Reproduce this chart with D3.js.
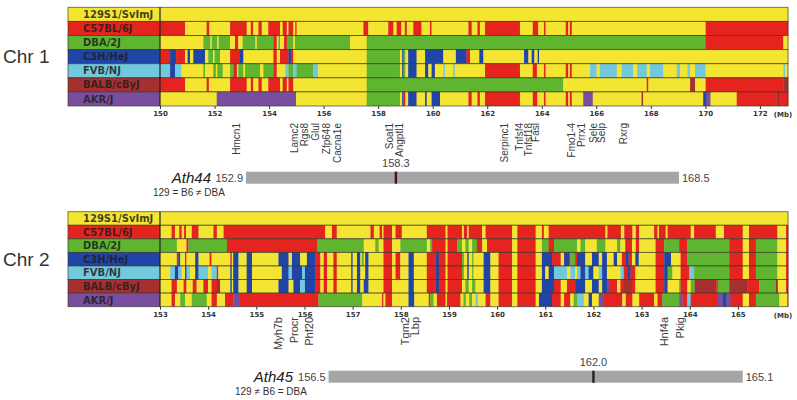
<!DOCTYPE html>
<html>
<head>
<meta charset="utf-8">
<script src="https://cdn.jsdelivr.net/npm/d3@7"></script>
<style>
  body { margin: 0; background: #fff; }
  svg { display: block; }
</style>
</head>
<body>
<div id="chart"></div>
<script>
// strain names and haplotype colour keys
var strains = ["129S1/SvImJ", "C57BL/6J", "DBA/2J", "C3H/HeJ", "FVB/NJ", "BALB/cByJ", "AKR/J"];
var strainKeys = ["Y", "R", "G", "B", "C", "M", "P"];

// chr 1 haplotype blocks: [start Mb, haplotype]
var chr1_129 = [[150,"Y"]];
var chr1_B6 = [[150,"R"],[150.92,"Y"],[151.71,"R"],[151.81,"Y"],[152.57,"R"],[153.18,"Y"],[153.33,"R"],[153.42,"Y"],[153.61,"R"],[153.73,"Y"],[153.97,"R"],[154.4,"Y"],[154.5,"R"],[154.65,"Y"],[154.71,"R"],[154.89,"Y"],[154.96,"R"],[155.01,"Y"],[157.46,"R"],[157.64,"Y"],[158.37,"R"],[158.56,"Y"],[158.68,"R"],[158.85,"Y"],[158.98,"R"],[159.05,"Y"],[159.29,"R"],[159.59,"Y"],[159.9,"R"],[159.96,"Y"],[161.31,"R"],[161.43,"Y"],[161.64,"R"],[161.73,"Y"],[161.92,"R"],[163.2,"Y"],[163.67,"R"],[163.87,"Y"],[164.08,"R"],[164.14,"Y"],[164.88,"R"],[164.97,"Y"],[165.03,"R"],[165.1,"Y"],[170.01,"R"]];
var chr1_DBA = [[150,"Y"],[151.59,"G"],[151.85,"Y"],[151.9,"G"],[152.1,"Y"],[152.15,"G"],[152.57,"Y"],[152.75,"R"],[152.87,"Y"],[153.03,"G"],[153.5,"Y"],[153.55,"G"],[154.16,"R"],[154.28,"Y"],[154.34,"G"],[154.4,"Y"],[154.55,"R"],[154.65,"G"],[154.89,"Y"],[154.95,"G"],[156.97,"Y"],[157.58,"G"],[170.01,"R"],[172.86,"Y"]];
var chr1_C3H = [[150,"R"],[150.37,"B"],[150.59,"R"],[150.92,"Y"],[151.01,"B"],[151.1,"Y"],[151.22,"B"],[151.65,"Y"],[151.77,"G"],[151.95,"Y"],[152.0,"G"],[152.2,"Y"],[152.57,"R"],[152.93,"B"],[153.06,"Y"],[154.16,"R"],[154.28,"Y"],[154.4,"R"],[154.71,"B"],[154.8,"R"],[154.89,"Y"],[157.58,"G"],[158.8,"Y"],[158.88,"B"],[158.93,"G"],[159.0,"Y"],[159.1,"B"],[159.41,"Y"],[159.72,"B"],[160.39,"Y"],[160.85,"B"],[161.24,"R"],[161.37,"Y"],[161.71,"B"],[161.86,"Y"],[163.35,"B"],[163.51,"Y"],[163.63,"B"],[163.73,"Y"],[163.85,"B"],[163.9,"Y"]];
var chr1_FVB = [[150,"C"],[150.37,"B"],[150.55,"C"],[150.79,"Y"],[151.59,"G"],[151.65,"Y"],[151.95,"G"],[152.05,"Y"],[152.1,"G"],[152.3,"Y"],[152.57,"G"],[152.7,"R"],[152.82,"Y"],[152.87,"G"],[153.06,"Y"],[153.12,"G"],[153.67,"Y"],[153.79,"G"],[154.16,"R"],[154.28,"Y"],[154.59,"C"],[154.71,"G"],[154.89,"C"],[155.01,"G"],[155.62,"C"],[155.8,"Y"],[157.58,"G"],[158.8,"Y"],[158.88,"B"],[158.93,"G"],[159.0,"Y"],[159.1,"B"],[159.41,"Y"],[159.72,"B"],[159.84,"Y"],[159.96,"B"],[160.08,"Y"],[160.39,"C"],[160.45,"Y"],[160.75,"C"],[160.81,"Y"],[161.92,"R"],[163.2,"Y"],[163.67,"R"],[163.82,"Y"],[164.08,"R"],[164.14,"Y"],[164.88,"R"],[164.97,"Y"],[165.03,"R"],[165.1,"Y"],[165.77,"C"],[166.01,"Y"],[166.13,"C"],[166.75,"Y"],[166.93,"C"],[167.36,"Y"],[167.5,"C"],[167.85,"Y"],[167.97,"C"],[168.46,"Y"],[168.95,"C"],[169.07,"Y"],[169.34,"C"],[169.44,"Y"],[169.62,"C"],[170.01,"Y"],[172.86,"C"],[172.92,"Y"]];
var chr1_BALB = [[150,"R"],[150.92,"Y"],[151.71,"R"],[151.79,"Y"],[152.57,"R"],[153.18,"Y"],[153.33,"R"],[153.42,"Y"],[153.61,"R"],[153.73,"Y"],[153.97,"R"],[154.4,"Y"],[154.5,"R"],[154.65,"Y"],[154.71,"R"],[154.89,"Y"],[157.58,"G"],[164.79,"Y"],[167.85,"R"],[167.91,"Y"],[169.44,"M"],[169.62,"Y"],[170.01,"R"],[172.86,"M"]];
var chr1_AKR = [[150,"Y"],[152.08,"P"],[154.99,"Y"],[157.58,"G"],[158.8,"Y"],[158.88,"B"],[158.93,"R"],[159.0,"Y"],[159.1,"B"],[159.41,"Y"],[159.72,"B"],[159.78,"Y"],[159.96,"B"],[160.27,"Y"],[161.31,"R"],[161.43,"Y"],[161.64,"R"],[161.73,"Y"],[161.92,"R"],[163.2,"Y"],[163.67,"R"],[163.84,"Y"],[164.08,"R"],[164.14,"Y"],[164.88,"R"],[164.97,"Y"],[165.03,"R"],[165.1,"Y"],[165.52,"P"],[165.87,"Y"],[167.66,"M"],[167.72,"Y"],[169.92,"B"],[170.02,"P"],[170.19,"Y"],[171.15,"R"],[172.61,"M"],[172.74,"R"]];

// chr 2 haplotype blocks
var chr2_129 = [[153,"Y"]];
var chr2_B6 = [[153,"Y"],[153.24,"R"],[153.31,"Y"],[153.4,"R"],[153.45,"Y"],[153.5,"R"],[153.54,"Y"],[153.66,"R"],[153.8,"Y"],[154.11,"R"],[154.18,"Y"],[154.32,"R"],[156.43,"Y"],[156.57,"R"],[156.67,"Y"],[157.37,"R"],[157.44,"Y"],[157.56,"R"],[157.61,"Y"],[157.64,"R"],[157.82,"Y"],[157.89,"R"],[158.02,"Y"],[158.54,"R"],[158.93,"Y"],[158.97,"R"],[159.27,"Y"],[159.31,"R"],[159.38,"Y"],[159.41,"R"],[159.69,"Y"],[159.76,"R"],[160.31,"Y"],[160.42,"R"],[160.8,"Y"],[160.93,"R"],[160.97,"Y"],[161.07,"R"],[162.25,"Y"],[162.29,"R"],[162.57,"Y"],[162.64,"R"],[162.81,"Y"],[162.88,"R"],[162.95,"Y"],[163.26,"R"],[163.33,"Y"],[163.36,"R"],[163.5,"Y"],[163.54,"R"],[164.02,"Y"],[164.09,"R"],[164.54,"Y"],[164.71,"R"],[165.1,"Y"],[165.23,"R"],[165.82,"Y"],[166.0,"R"]];
var chr2_DBA = [[153,"G"],[153.35,"Y"],[153.55,"R"],[153.59,"G"],[154.39,"R"],[156.26,"G"],[157.23,"Y"],[157.47,"G"],[157.54,"Y"],[157.64,"R"],[157.82,"Y"],[157.99,"G"],[158.54,"Y"],[158.61,"G"],[158.65,"R"],[158.93,"Y"],[158.97,"R"],[159.17,"G"],[159.27,"Y"],[159.34,"G"],[159.41,"Y"],[159.48,"G"],[159.58,"R"],[159.69,"Y"],[159.79,"R"],[160.31,"Y"],[160.42,"R"],[160.8,"Y"],[160.93,"G"],[161.07,"R"],[161.18,"G"],[161.66,"Y"],[161.73,"G"],[161.83,"Y"],[162.07,"G"],[162.25,"Y"],[162.49,"G"],[162.56,"Y"],[162.66,"R"],[162.8,"Y"],[162.88,"R"],[162.95,"Y"],[163.29,"R"],[163.47,"G"],[163.78,"R"],[163.95,"G"],[164.82,"R"],[165.1,"Y"],[165.23,"R"],[165.37,"G"],[165.82,"Y"],[166.0,"R"]];
var chr2_C3H = [[153,"Y"],[153.35,"R"],[153.38,"B"],[153.42,"Y"],[153.52,"R"],[153.55,"Y"],[153.73,"B"],[153.8,"Y"],[154.03,"R"],[154.07,"Y"],[154.46,"R"],[154.49,"Y"],[154.52,"B"],[154.63,"Y"],[154.8,"B"],[154.91,"Y"],[155.46,"B"],[155.67,"Y"],[155.74,"B"],[155.91,"Y"],[156.05,"B"],[156.22,"R"],[156.33,"Y"],[156.4,"R"],[156.47,"Y"],[156.6,"R"],[156.67,"Y"],[156.97,"B"],[157.0,"Y"],[157.09,"B"],[157.16,"Y"],[157.19,"G"],[157.23,"Y"],[157.26,"B"],[157.33,"Y"],[157.64,"R"],[157.82,"Y"],[157.89,"R"],[157.99,"Y"],[158.16,"B"],[158.27,"Y"],[158.54,"R"],[158.72,"B"],[158.79,"R"],[158.93,"Y"],[158.97,"R"],[159.27,"G"],[159.31,"Y"],[159.38,"B"],[159.41,"Y"],[159.48,"G"],[159.51,"Y"],[159.72,"B"],[159.86,"Y"],[160.03,"R"],[160.31,"Y"],[160.42,"R"],[160.8,"Y"],[160.93,"B"],[161.14,"R"],[161.32,"Y"],[161.39,"B"],[161.49,"R"],[161.52,"G"],[161.62,"R"],[161.66,"B"],[161.83,"Y"],[161.97,"B"],[162.11,"Y"],[162.18,"B"],[162.28,"Y"],[162.42,"B"],[162.49,"Y"],[162.59,"R"],[162.66,"B"],[162.73,"R"],[162.8,"Y"],[162.87,"B"],[162.94,"Y"],[163.29,"R"],[163.47,"B"],[163.61,"Y"],[163.81,"R"],[163.95,"G"],[164.82,"R"],[165.1,"Y"],[165.23,"R"],[165.37,"G"],[165.82,"Y"],[166.0,"R"]];
var chr2_FVB = [[153,"Y"],[153.21,"C"],[153.31,"B"],[153.38,"C"],[153.45,"Y"],[153.52,"B"],[153.55,"C"],[153.62,"Y"],[153.73,"B"],[153.8,"C"],[154.0,"Y"],[154.07,"C"],[154.18,"R"],[154.21,"Y"],[154.46,"B"],[154.49,"Y"],[154.52,"B"],[154.63,"Y"],[154.8,"B"],[154.91,"Y"],[155.53,"B"],[155.67,"C"],[155.74,"B"],[155.95,"C"],[156.01,"B"],[156.22,"R"],[156.33,"Y"],[156.4,"R"],[156.47,"Y"],[156.6,"R"],[156.67,"Y"],[156.97,"B"],[157.0,"Y"],[157.09,"B"],[157.16,"Y"],[157.26,"B"],[157.33,"Y"],[157.64,"R"],[157.82,"Y"],[157.89,"R"],[157.99,"Y"],[158.16,"B"],[158.27,"Y"],[158.54,"R"],[158.72,"B"],[158.79,"R"],[158.93,"Y"],[158.97,"R"],[159.27,"G"],[159.31,"Y"],[159.38,"B"],[159.41,"Y"],[159.48,"G"],[159.51,"Y"],[159.72,"B"],[159.86,"Y"],[160.03,"R"],[160.31,"Y"],[160.42,"R"],[160.8,"Y"],[160.93,"B"],[161.0,"Y"],[161.07,"B"],[161.18,"C"],[161.45,"Y"],[161.52,"C"],[161.62,"Y"],[161.66,"C"],[161.73,"B"],[161.83,"C"],[161.9,"B"],[162.0,"Y"],[162.11,"C"],[162.18,"B"],[162.28,"Y"],[162.56,"C"],[162.63,"R"],[162.7,"B"],[162.77,"R"],[162.87,"Y"],[163.29,"R"],[163.47,"B"],[163.54,"G"],[163.64,"Y"],[163.81,"R"],[163.99,"C"],[164.09,"G"],[164.82,"R"],[165.1,"Y"],[165.23,"R"],[165.37,"G"],[165.82,"Y"],[166.0,"R"]];
var chr2_BALB = [[153,"Y"],[153.24,"R"],[153.35,"Y"],[153.49,"R"],[153.55,"Y"],[153.68,"R"],[153.76,"Y"],[153.9,"R"],[154.0,"Y"],[154.07,"R"],[154.18,"M"],[154.25,"Y"],[154.46,"B"],[154.49,"Y"],[154.52,"B"],[154.63,"Y"],[154.8,"B"],[154.91,"Y"],[155.46,"B"],[155.67,"Y"],[155.77,"B"],[155.91,"C"],[156.01,"B"],[156.22,"R"],[156.33,"Y"],[156.4,"R"],[156.47,"Y"],[156.6,"R"],[156.67,"Y"],[156.97,"B"],[157.0,"Y"],[157.09,"B"],[157.16,"Y"],[157.23,"B"],[157.33,"Y"],[157.64,"R"],[157.82,"Y"],[158.16,"B"],[158.27,"Y"],[158.54,"R"],[158.72,"B"],[158.79,"R"],[158.93,"Y"],[158.97,"R"],[159.27,"Y"],[159.34,"G"],[159.41,"Y"],[159.48,"G"],[159.55,"Y"],[159.72,"B"],[159.86,"Y"],[160.03,"R"],[160.31,"Y"],[160.42,"R"],[160.8,"Y"],[160.93,"B"],[161.18,"R"],[161.32,"Y"],[161.45,"R"],[161.62,"B"],[161.83,"Y"],[161.97,"B"],[162.11,"Y"],[162.18,"B"],[162.28,"P"],[162.32,"R"],[162.49,"Y"],[162.56,"R"],[162.63,"M"],[162.8,"R"],[162.87,"Y"],[163.29,"R"],[163.47,"B"],[163.54,"Y"],[163.78,"G"],[163.81,"R"],[163.95,"Y"],[164.02,"G"],[164.1,"M"],[164.55,"R"],[164.58,"G"],[164.82,"M"],[165.2,"R"],[165.44,"G"],[165.79,"M"],[165.83,"Y"],[166.0,"R"]];
var chr2_AKR = [[153,"Y"],[153.24,"R"],[153.31,"Y"],[153.42,"G"],[153.52,"Y"],[153.66,"G"],[153.97,"Y"],[154.07,"R"],[154.18,"Y"],[154.35,"R"],[154.52,"P"],[154.66,"R"],[156.29,"G"],[157.2,"Y"],[157.61,"R"],[157.64,"Y"],[157.68,"R"],[157.82,"Y"],[158.16,"B"],[158.28,"Y"],[158.58,"R"],[158.61,"G"],[158.68,"Y"],[158.75,"R"],[158.93,"Y"],[158.96,"R"],[159.24,"Y"],[159.3,"G"],[159.35,"Y"],[159.42,"G"],[159.48,"Y"],[159.55,"C"],[159.6,"Y"],[159.76,"R"],[159.86,"Y"],[160.03,"R"],[160.31,"Y"],[160.42,"R"],[160.8,"Y"],[160.87,"B"],[161.14,"R"],[161.32,"Y"],[161.39,"R"],[161.52,"Y"],[161.59,"G"],[161.66,"C"],[161.8,"Y"],[161.9,"B"],[161.97,"Y"],[162.11,"P"],[162.22,"R"],[162.6,"Y"],[162.67,"R"],[162.81,"Y"],[162.95,"R"],[163.26,"Y"],[163.33,"R"],[163.43,"G"],[163.78,"P"],[163.85,"R"],[163.95,"C"],[164.02,"R"],[164.58,"P"],[164.68,"B"],[164.75,"P"],[164.85,"R"],[165.1,"Y"],[165.23,"R"],[165.37,"G"],[165.86,"Y"],[166.03,"R"]];

// axis ticks
var chr1Ticks = [150,152,154,156,158,160,162,164,166,168,170,172];
var chr2Ticks = [153,154,155,156,157,158,159,160,161,162,163,164,165];

// genes
var chr1Genes = ["Hmcn1","Lamc2","Rgs8","Glul","Zfp648","Cacna1e","Soat1","Angptl1","Serpinc1","Tnfsf4","Tnfsf18","Fasl","Fmo1-4","Prrx1","Sele","Selp","Rxrg"];
var chr1GenePos = [152.8,154.95,155.3,155.7,156.1,156.5,158.43,158.77,162.65,163.2,163.5,163.78,165.1,165.44,165.9,166.2,166.98];
var chr2Genes = ["Myh7b","Procr","Phf20","Tgm2","Lbp","Hnf4a","Pkig"];
var chr2GenePos = [155.46,155.79,156.1,158.09,158.3,163.46,163.79];

// QTL intervals
var qtlNames = ["Ath44","Ath45"];
var qtlLow = [152.9,156.5];
var qtlPeak = [158.3,162.0];
var qtlHigh = [168.5,165.1];
var qtlNotes = ["129 = B6 \u2260 DBA","129 \u2260 B6 = DBA"];

var hapColor = {Y:"#f3e532", R:"#e5231f", G:"#5fb52f", B:"#2045a6", C:"#72c8dc", M:"#a5302f", P:"#7a4e9e"};

var svg = d3.select("#chart").append("svg")
  .attr("width", 797)
  .attr("height", 400)
  .style("font-family", "Arial, 'Liberation Sans', sans-serif");

var drawPanel = function(rows, domain, ticks, top, rowH, genes, genePos, geneY, geneSize, chrName) {
  var x = d3.scaleLinear().domain(domain).range([160, 788]);
  var labelX = 68;
  var g = svg.append("g");

  rows.forEach(function(row, r) {
    var y = top + r*rowH;
    // label cell
    g.append("rect")
      .attr("x", labelX).attr("y", y)
      .attr("width", 160 - labelX).attr("height", rowH)
      .style("fill", hapColor[strainKeys[r]]);
    g.append("text")
      .attr("x", 83).attr("y", y + rowH/2)
      .attr("dy", "0.36em")
      .style("font-family", "'DejaVu Sans', Verdana, sans-serif")
      .style("font-weight", "bold")
      .style("font-size", "10px")
      .style("fill", "#1e1e1e")
      .style("fill-opacity", 0.85)
      .text(strains[r]);

    var segs = row.map(function(d, i) {
      var end = i < row.length - 1 ? row[i+1][0] : domain[1];
      return {s: d[0], e: end, k: d[1]};
    });
    g.selectAll(null)
      .data(segs)
      .enter()
      .append("rect")
      .attr("x", function(d) {return x(d.s);})
      .attr("y", y)
      .attr("width", function(d) {return Math.max(0.8, x(d.e) - x(d.s) + 0.3);})
      .attr("height", rowH)
      .style("fill", function(d) {return hapColor[d.k];});

    g.append("rect")
      .attr("x", labelX).attr("y", y)
      .attr("width", 788 - labelX).attr("height", rowH)
      .style("fill", "none")
      .style("stroke", "#3a3a2a")
      .style("stroke-opacity", 0.75)
      .style("stroke-width", 0.9);
  });

  var bottom = top + rows.length*rowH;
  g.append("line")
    .attr("x1", 160).attr("x2", 160)
    .attr("y1", top).attr("y2", bottom)
    .style("stroke", "#222").style("stroke-width", 1.2);

  var axis = d3.axisBottom(x).tickValues(ticks).tickSize(3).tickPadding(2).tickFormat(d3.format("d"));
  var ax = g.append("g")
    .attr("transform", "translate(0," + bottom + ")")
    .call(axis);
  ax.select(".domain").remove();
  ax.selectAll("line").style("stroke", "#333");
  ax.selectAll("text")
    .style("font-family", "'DejaVu Sans', Verdana, sans-serif")
    .style("font-weight", "bold")
    .style("font-size", "7px")
    .style("fill", "#333");
  g.append("text")
    .attr("x", 783).attr("y", bottom + 11)
    .attr("text-anchor", "middle")
    .style("font-family", "'DejaVu Sans', Verdana, sans-serif")
    .style("font-weight", "bold")
    .style("font-size", "7px")
    .style("fill", "#333")
    .text("(Mb)");

  g.selectAll(null)
    .data(genes)
    .enter()
    .append("text")
    .attr("transform", function(d, i) {return "translate(" + x(genePos[i]) + "," + geneY + ") rotate(-90)";})
    .attr("dy", "0.35em")
    .attr("text-anchor", "end")
    .style("font-size", geneSize + "px")
    .style("fill", "#3a3a3a")
    .text(function(d) {return d;});

  g.append("text")
    .attr("x", 3).attr("y", top + rowH*3.5)
    .attr("dy", "0.36em")
    .style("font-size", "19px")
    .style("fill", "#333")
    .text(chrName);

  return x;
};

var x1 = drawPanel([chr1_129, chr1_B6, chr1_DBA, chr1_C3H, chr1_FVB, chr1_BALB, chr1_AKR],
  [150, 173.03], chr1Ticks, 7.3, 14.1, chr1Genes, chr1GenePos, 123, 10, "Chr 1");
var x2 = drawPanel([chr2_129, chr2_B6, chr2_DBA, chr2_C3H, chr2_FVB, chr2_BALB, chr2_AKR],
  [153, 166.04], chr2Ticks, 211.7, 13.57, chr2Genes, chr2GenePos, 317, 11, "Chr 2");

// QTL bars
var qtlScales = [
  d3.scaleLinear().domain([qtlLow[0], qtlHigh[0]]).range([246, 679]),
  x2
];
var qtlY = [171.7, 370.7];
var nameX = [211, 293];
var noteX = [153, 235];

qtlNames.forEach(function(name, i) {
  var q = qtlScales[i];
  var y = qtlY[i];
  var g = svg.append("g");
  g.append("rect")
    .attr("x", q(qtlLow[i])).attr("y", y)
    .attr("width", q(qtlHigh[i]) - q(qtlLow[i])).attr("height", 12)
    .style("fill", "#a5a5a5");
  g.append("rect")
    .attr("x", q(qtlPeak[i]) - 1.2).attr("y", y)
    .attr("width", 2.4).attr("height", 12)
    .style("fill", i === 0 ? "#4a1414" : "#222");
  g.append("text")
    .attr("x", q(qtlPeak[i])).attr("y", y - 5)
    .attr("text-anchor", "middle")
    .style("font-size", "11px").style("fill", "#444")
    .text(d3.format(".1f")(qtlPeak[i]));
  g.append("text")
    .attr("x", q(qtlLow[i]) - 3).attr("y", y + 10.5)
    .attr("text-anchor", "end")
    .style("font-size", "11px").style("fill", "#444")
    .text(d3.format(".1f")(qtlLow[i]));
  g.append("text")
    .attr("x", q(qtlHigh[i]) + 3).attr("y", y + 10.5)
    .style("font-size", "11px").style("fill", "#444")
    .text(d3.format(".1f")(qtlHigh[i]));
  g.append("text")
    .attr("x", nameX[i]).attr("y", y + 11.5)
    .attr("text-anchor", "end")
    .style("font-size", "15px").style("font-style", "italic").style("fill", "#222")
    .text(name);
  g.append("text")
    .attr("x", noteX[i]).attr("y", y + 24)
    .style("font-size", "10px").style("fill", "#333")
    .text(qtlNotes[i]);
});
</script>
</body>
</html>
